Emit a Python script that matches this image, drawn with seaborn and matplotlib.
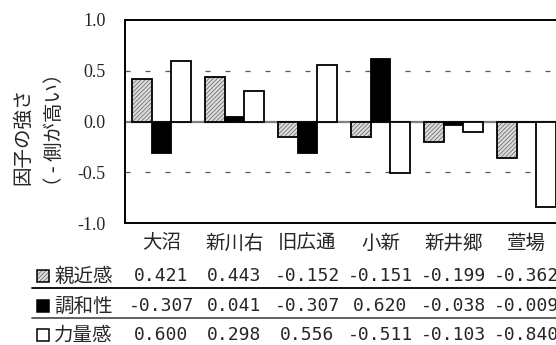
import matplotlib
matplotlib.use("Agg")
import matplotlib.pyplot as plt
import matplotlib.transforms as mtransforms
from matplotlib.lines import Line2D
from matplotlib.patches import Rectangle
import seaborn as sns
import pandas as pd

# ---- data -------------------------------------------------------------
sites = ["大沼", "新川右", "旧広通", "小新", "新井郷", "萱場"]
factors = ["親近感", "調和性", "力量感"]
shinkin = [0.421, 0.443, -0.152, -0.151, -0.199, -0.362]
chowa = [-0.307, 0.041, -0.307, 0.620, -0.038, -0.009]
rikiryo = [0.600, 0.298, 0.556, -0.511, -0.103, -0.840]
yticks = [-1.0, -0.5, 0.0, 0.5, 1.0]
ytick_labels = ["-1.0", "-0.5", "0.0", "0.5", "1.0"]

series = [shinkin, chowa, rikiryo]
df = pd.DataFrame({
    "site": [s for _ in factors for s in sites],
    "factor": [f for f in factors for _ in sites],
    "value": [v for vals in series for v in vals],
})

# ---- styling -----------------------------------------------------------
sns.set_theme(style="white")
plt.rcParams["font.family"] = ["Noto Sans CJK JP", "DejaVu Sans"]
plt.rcParams["hatch.linewidth"] = 0.6

W, H = 556, 345
fig = plt.figure(figsize=(W / 100, H / 100), dpi=100)
ax_left, ax_right, ax_top, ax_bottom = 125, 563, 20, 223
ax = fig.add_axes([ax_left / W, 1 - ax_bottom / H,
                   (ax_right - ax_left) / W, (ax_bottom - ax_top) / H])

sns.barplot(data=df, x="site", y="value", hue="factor", order=sites,
            hue_order=factors, width=0.8, legend=False, ax=ax,
            errorbar=None)

hatch_gray = (0.45, 0.45, 0.45, 1.0)
HATCH = "////////"
styles = [
    dict(facecolor="#dcdcdc", hatch=HATCH),
    dict(facecolor="black", hatch=None),
    dict(facecolor="white", hatch=None),
]
for cont, st in zip(ax.containers, styles):
    for bar in cont:
        bar.set_facecolor(st["facecolor"])
        bar.set_edgecolor("black")
        bar.set_linewidth(1.3)
        if st["hatch"]:
            bar.set_hatch(st["hatch"])
            bar._hatch_color = hatch_gray
        bar.set_zorder(3)

ax.set_ylim(-1.0, 1.0)
ax.set_xlim(-0.5, len(sites) - 0.5)
ax.set_yticks(yticks)
ax.set_yticklabels(ytick_labels, family="Liberation Serif", fontsize=13)
ax.tick_params(axis="y", length=0, pad=14)
ax.set_xticks([])
ax.set_xlabel("")
ax.set_ylabel("")

# reference lines
ax.axhline(0, color="#7f7f7f", lw=1.6, zorder=2)
for yv in (0.5, -0.5):
    ax.axhline(yv, color="#555555", lw=0.9, dashes=(4, 12), zorder=1)

for side in ("left", "top", "bottom", "right"):
    ax.spines[side].set_color("black")
    ax.spines[side].set_linewidth(1.4)

# y-axis title (two rotated lines)
fig.text(23 / W, 1 - 136 / H, "因子の強さ", rotation=90, ha="center",
         va="center", fontsize=14)
fig.text(54 / W, 1 - 130 / H, "（ - 側が高い）", rotation=90, ha="center",
         va="center", fontsize=14)

# category labels and value table under the plot
trans = mtransforms.blended_transform_factory(ax.transData, fig.transFigure)
row_y = [276, 306, 335]
for i, s in enumerate(sites):
    ax.text(i, 1 - 243 / H, s, transform=trans, ha="center", va="center",
            fontsize=14, clip_on=False)
    for r, vals in enumerate(series):
        ax.text(i, 1 - row_y[r] / H, f"{vals[i]:.3f}", transform=trans,
                ha="center", va="center", fontsize=13,
                family="DejaVu Sans Mono", clip_on=False)

for r, name in enumerate(factors):
    fig.text(54 / W, 1 - row_y[r] / H, name, ha="left", va="center",
             fontsize=14)
    sq = Rectangle((37 / W, 1 - (row_y[r] + 6) / H), 12 / W, 12 / H,
                   transform=fig.transFigure, facecolor=styles[r]["facecolor"],
                   edgecolor="black", linewidth=1.1)
    if styles[r]["hatch"]:
        sq.set_hatch(HATCH)
        sq._hatch_color = hatch_gray
    fig.add_artist(sq)

for yl, col in ((288, "black"), (318, "#555555")):
    fig.add_artist(Line2D([32 / W, 1.0], [1 - yl / H, 1 - yl / H],
                          transform=fig.transFigure, color=col, lw=1.3))

fig.savefig("out.png", dpi=100)
